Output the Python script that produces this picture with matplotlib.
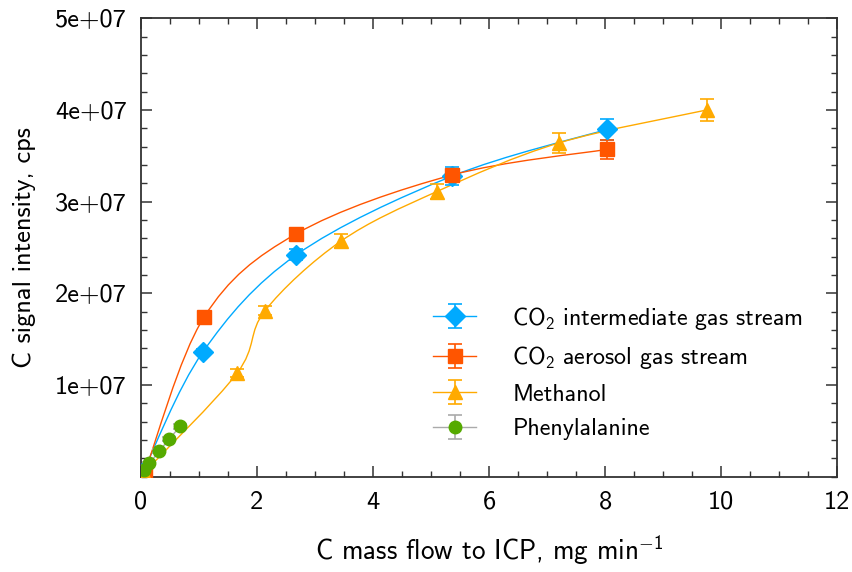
import numpy as np
import matplotlib
matplotlib.use("Agg")
import matplotlib.pyplot as plt
from matplotlib.path import Path
from matplotlib.patches import PathPatch
from matplotlib.ticker import MultipleLocator

plt.rcParams['font.family'] = ['cmss10', 'DejaVu Sans']
plt.rcParams['mathtext.fontset'] = 'custom'
plt.rcParams['mathtext.rm'] = 'cmss10'
plt.rcParams['axes.unicode_minus'] = False

# data
co2_int_x = [0.03, 1.07, 2.68, 5.37, 8.04]
co2_int_y = [0.37e6, 1.36e7, 2.42e7, 3.28e7, 3.79e7]
co2_int_err = [0.2e6, 0.3e6, 0.6e6, 0.95e6, 1.15e6]

co2_aer_x = [0.07, 1.09, 2.68, 5.36, 8.03]
co2_aer_y = [0.55e6, 1.74e7, 2.65e7, 3.29e7, 3.57e7]
co2_aer_err = [0.2e6, 0.3e6, 0.5e6, 0.5e6, 1.05e6]

meoh_x = [0.05, 1.66, 2.14, 3.45, 5.10, 7.20, 9.75]
meoh_y = [0.4e6, 1.13e7, 1.81e7, 2.57e7, 3.11e7, 3.64e7, 4.00e7]
meoh_err = [0.2e6, 0.4e6, 0.5e6, 0.75e6, 0.85e6, 1.05e6, 1.2e6]

phe_x = [0.05, 0.15, 0.32, 0.49, 0.68]
phe_y = [0.7e6, 1.46e6, 2.80e6, 4.11e6, 5.50e6]
phe_err = [0.1e6, 0.15e6, 0.2e6, 0.2e6, 0.25e6]

y_ticks = [1e7, 2e7, 3e7, 4e7, 5e7]
y_tick_labels = ["1e+07", "2e+07", "3e+07", "4e+07", "5e+07"]

c_blue = "#00AAFF"
c_red = "#FF5500"
c_orange = "#FFAA00"
c_green = "#55AA00"
c_gray = "#AAAAAA"


def smooth_path(xs, ys):
    # Catmull-Rom through the data, rendered as cubic Bezier segments
    pts = [(0.0, 0.0)] + list(zip(xs, ys))
    pts = np.array(pts)
    verts = [tuple(pts[0])]
    codes = [Path.MOVETO]
    n = len(pts)
    for i in range(n - 1):
        p0 = pts[i - 1] if i > 0 else pts[i]
        p1 = pts[i]
        p2 = pts[i + 1]
        p3 = pts[i + 2] if i + 2 < n else pts[i + 1]
        c1 = p1 + (p2 - p0) / 6.0
        c2 = p2 - (p3 - p1) / 6.0
        verts += [tuple(c1), tuple(c2), tuple(p2)]
        codes += [Path.CURVE4] * 3
    return Path(verts, codes)


fig = plt.figure(figsize=(8.53, 5.72), dpi=100)
ax = fig.add_axes([0.165, 0.1666, 0.8166, 0.8014])

series = [
    (co2_int_x, co2_int_y, co2_int_err, c_blue, "D", 10, "CO$_2$ intermediate gas stream"),
    (co2_aer_x, co2_aer_y, co2_aer_err, c_red, "s", 9.5, "CO$_2$ aerosol gas stream"),
    (meoh_x, meoh_y, meoh_err, c_orange, "^", 10, "Methanol"),
]
for xs, ys, err, col, mk, ms, lab in series:
    ax.add_patch(PathPatch(smooth_path(xs, ys), facecolor="none", edgecolor=col, lw=1.0, zorder=2))
    ax.errorbar(xs, ys, yerr=err, fmt=mk, color=col, ms=ms, mec=col, ecolor=col,
                elinewidth=1.2, capsize=5, capthick=1.2, zorder=3)
    # legend entry only
    ax.errorbar([np.nan], [np.nan], yerr=[1.0], fmt=mk + "-", color=col, ms=ms, lw=1.0,
                elinewidth=1.2, capsize=5, capthick=1.2, label=lab)

ax.plot([0] + phe_x, [0] + phe_y, color=c_gray, lw=1.0, zorder=2)
ax.errorbar(phe_x, phe_y, yerr=phe_err, fmt="o", color=c_green, ms=9, ecolor=c_gray,
            elinewidth=1.2, capsize=5, capthick=1.2, zorder=3)
ax.errorbar([np.nan], [np.nan], yerr=[1.0], fmt="o-", color=c_gray, mfc=c_green, mec=c_green, ms=9,
            lw=1.0, ecolor=c_gray, elinewidth=1.2, capsize=5, capthick=1.2, label="Phenylalanine")

ax.set_xlim(0, 12)
ax.set_ylim(0, 5e7)
ax.xaxis.set_major_locator(MultipleLocator(2))
ax.xaxis.set_minor_locator(MultipleLocator(0.5))
ax.set_yticks(y_ticks)
ax.set_yticklabels(y_tick_labels)
ax.yaxis.set_minor_locator(MultipleLocator(2e6))
ax.tick_params(which="both", direction="in", top=True, right=True, labelsize=19, colors="#333333",
               labelcolor="black")
ax.tick_params(which="major", length=8, width=1.1, pad=10)
ax.tick_params(which="minor", length=4, width=1.0)
for sp in ax.spines.values():
    sp.set_linewidth(1.3)
    sp.set_color("#333333")

ax.set_xlabel("C mass flow to ICP, mg min$^{-1}$", fontsize=19.5, labelpad=14)
ax.set_ylabel("C signal intensity, cps", fontsize=19, labelpad=14)

ax.legend(loc="upper left", bbox_to_anchor=(0.4196, 0.375), borderaxespad=0, borderpad=0,
          frameon=False, fontsize=17.3, handlelength=1.8, handletextpad=1.5, labelspacing=0.52)

fig.savefig("out.png", dpi=100)
